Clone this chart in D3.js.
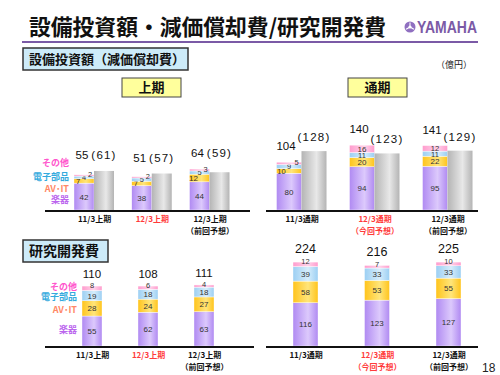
<!DOCTYPE html>
<html lang="ja">
<head>
<meta charset="UTF-8">
<title>設備投資額・減価償却費/研究開発費</title>
<script src="https://d3js.org/d3.v7.min.js"></script>
<style>
  body { margin: 0; padding: 0; background: #fff; }
  svg { display: block; font-family: "Noto Sans CJK JP", "Liberation Sans", sans-serif; }
</style>
</head>
<body>
<svg id="chart" width="500" height="375"></svg>
<script>
// ---- data ----
const segments = ["楽器", "AV・IT", "電子部品", "その他"];
const halfCats = ["11/3上期", "12/3上期", "12/3上期"];
const fullCats = ["11/3通期", "12/3通期", "12/3通期"];
const halfSubs = ["", "", "（前回予想）"];
const fullSubs = ["", "（今回予想）", "（前回予想）"];
const current = [false, true, false];

const capexHalf = [[42, 7, 4, 2], [38, 7, 5, 2], [44, 12, 5, 3]];
const capexHalfTotal = [55, 51, 64];
const deprHalf = [61, 57, 59];

const capexFull = [[80, 10, 9, 5], [94, 20, 11, 16], [95, 22, 11, 12]];
const capexFullTotal = [104, 140, 141];
const deprFull = [128, 123, 129];

const rdHalf = [[55, 28, 19, 8], [62, 24, 18, 6], [63, 27, 18, 4]];
const rdHalfTotal = [110, 108, 111];

const rdFull = [[116, 58, 39, 12], [123, 53, 33, 7], [127, 55, 33, 10]];
const rdFullTotal = [224, 216, 225];

// ---- styles ----
const segColors = [["#b08af2", "#dcc9fc"], ["#ffc41c", "#ffe57a"], ["#9ccff3", "#d6edfb"], ["#ff9ccd", "#ffd2e9"]];
const grayColors = ["#b4b4b4", "#e8e8e8"];
const legendColors = ["#bb66ee", "#ff8866", "#33aadd", "#ff55cc"];
const purple = "#7b5aa6";

const svg = d3.select("#chart");
const defs = svg.append("defs");

function addGrad(id, c) {
  const g = defs.append("linearGradient").attr("id", id).attr("x1", 0).attr("x2", 1).attr("y1", 0).attr("y2", 0);
  g.append("stop").attr("offset", "0%").attr("stop-color", c[0]);
  g.append("stop").attr("offset", "60%").attr("stop-color", c[1]);
  g.append("stop").attr("offset", "100%").attr("stop-color", c[0]);
}
segColors.forEach((c, i) => addGrad("seg" + i, c));
addGrad("gray", grayColors);

// ---- header ----
svg.append("text").attr("x", 29).attr("y", 35)
  .attr("font-size", 22).attr("font-weight", "bold").attr("fill", "#111")
  .attr("textLength", 357).attr("lengthAdjust", "spacingAndGlyphs")
  .text("設備投資額・減価償却費/研究開発費");
svg.append("line").attr("x1", 22).attr("x2", 478).attr("y1", 42).attr("y2", 42)
  .attr("stroke", purple).attr("stroke-width", 2);

// yamaha logo
const logo = svg.append("g").attr("transform", "translate(410,27)");
logo.append("circle").attr("r", 5.5).attr("fill", "#8f6fc0");
[0, 120, 240].forEach(a => {
  logo.append("line").attr("x1", 0).attr("y1", 0).attr("x2", 0).attr("y2", -4.5)
    .attr("stroke", "#fff").attr("stroke-width", 1.1).attr("transform", `rotate(${a})`);
});
logo.append("circle").attr("r", 1.6).attr("fill", "#fff");
svg.append("text").attr("x", 417).attr("y", 33).attr("font-family", "Liberation Sans Narrow, Liberation Sans, sans-serif")
  .attr("font-size", 16).attr("font-weight", "bold").attr("fill", "#7b5aa6")
  .attr("textLength", 60).attr("lengthAdjust", "spacingAndGlyphs").text("YAMAHA");

function titleBox(x, y, w, h, txt, fs) {
  svg.append("rect").attr("x", x).attr("y", y).attr("width", w).attr("height", h)
    .attr("fill", "#cdebf9").attr("stroke", "#333").attr("stroke-width", 1.5);
  svg.append("text").attr("x", x + 6).attr("y", y + h / 2 + fs * 0.38)
    .attr("font-size", fs).attr("font-weight", "bold").attr("fill", "#111").text(txt);
}
titleBox(23, 48, 165, 22, "設備投資額（減価償却費）", 13);
titleBox(23, 240, 85, 22, "研究開発費", 14);

svg.append("text").attr("x", 436).attr("y", 68).attr("font-size", 9).attr("fill", "#222").text("（億円）");

function periodBox(x, txt) {
  svg.append("rect").attr("x", x).attr("y", 78).attr("width", 59).attr("height", 19)
    .attr("fill", "#ffff9c").attr("stroke", "#444").attr("stroke-width", 1);
  svg.append("text").attr("x", x + 29.5).attr("y", 92).attr("text-anchor", "middle")
    .attr("font-size", 13).attr("font-weight", "bold").attr("fill", "#111").text(txt);
}
periodBox(122, "上期");
periodBox(348, "通期");

// ---- legends ----
function legend(xr, ys) {
  [3, 2, 1, 0].forEach((s, k) => {
    svg.append("text").attr("x", xr).attr("y", ys[k]).attr("text-anchor", "end")
      .attr("font-size", 9).attr("font-weight", "bold").attr("fill", legendColors[s])
      .text(s === 1 ? "AV･IT" : segments[s]);
  });
}
legend(69, [166, 180, 192, 203]);
legend(77, [290, 300, 313, 333]);

// ---- panels ----
function panel(opt) {
  const g = svg.append("g");
  const x = d3.scalePoint().domain([0, 1, 2]).range(opt.centers);
  const y = d3.scaleLinear().domain([0, opt.max]).range([opt.base, opt.base - opt.max * opt.k]);
  const bw = opt.barW;
  const hasGray = !!opt.gray;
  const sx = i => hasGray ? x(i) - bw : x(i) - bw / 2;

  opt.stacks.forEach((vals, i) => {
    let acc = 0;
    vals.forEach((v, s) => {
      const y0 = y(acc), y1 = y(acc + v);
      g.append("rect").attr("x", sx(i)).attr("y", y1).attr("width", bw).attr("height", y0 - y1)
        .attr("fill", `url(#seg${s})`).attr("stroke", "#fff").attr("stroke-width", 0.4);
      let lx = sx(i) + bw / 2;
      let ly = (y0 + y1) / 2 + 3;
      if (opt.spread && opt.spread[i] && s > 0) {
        lx += (s - 2) * bw * 0.3;
        ly -= (s - 1) * 0.5;
      } else if (y0 - y1 < 5) {
        ly = y1 + 2;
      }
      g.append("text").attr("x", lx).attr("y", ly)
        .attr("text-anchor", "middle").attr("font-size", y0 - y1 < 6 ? 7.5 : 8).attr("fill", "#333")
        .attr("font-family", "Liberation Sans Narrow, Liberation Sans, sans-serif")
        .text(v);
      acc += v;
    });
  });

  if (hasGray) {
    opt.gray.forEach((v, i) => {
      g.append("rect").attr("x", x(i)).attr("y", y(v)).attr("width", bw).attr("height", y(0) - y(v))
        .attr("fill", "url(#gray)");
    });
  }

  // totals
  opt.totals.forEach((t, i) => {
    const sum = d3.sum(opt.stacks[i]);
    let top = y(sum);
    if (hasGray && opt.shared) top = Math.min(top, y(opt.gray[i]));
    g.append("text").attr("x", sx(i) + bw / 2 + (opt.totalDx || 0)).attr("y", top - opt.gap)
      .attr("text-anchor", "middle").attr("font-size", opt.totalSize).attr("fill", "#111")
      .attr("font-family", "Liberation Sans, sans-serif").text(t);
    if (hasGray) {
      const gt = opt.shared ? top - opt.gap : y(opt.gray[i]) - opt.grayGap;
      g.append("text").attr("x", x(i) + bw / 2).attr("y", gt)
        .attr("text-anchor", "middle").attr("font-size", opt.totalSize).attr("fill", "#111")
        .attr("letter-spacing", 1.2)
        .attr("font-family", "Liberation Sans, sans-serif").text(`(${opt.gray[i]})`);
    }
  });

  // axis
  const ax = g.append("g").attr("transform", `translate(0,${opt.base + 1})`)
    .call(d3.axisBottom(x).tickSize(0).tickPadding(5).tickFormat(i => opt.cats[i]));
  ax.select(".domain").attr("d", `M${opt.axis[0]},0H${opt.axis[1]}`).attr("stroke", "#111").attr("stroke-width", 2);
  ax.selectAll(".tick text").attr("font-size", 8).attr("font-weight", "bold")
    .attr("font-family", "Noto Sans CJK JP, sans-serif")
    .attr("fill", i => current[i] ? "#ff3b3b" : "#111");
  ax.selectAll(".tick").append("text").attr("y", 23).attr("text-anchor", "middle")
    .attr("font-size", 8).attr("font-weight", "bold").attr("font-family", "Noto Sans CJK JP, sans-serif")
    .attr("fill", i => current[i] ? "#ff3b3b" : "#111")
    .text(i => opt.subs[i]);
}

panel({ stacks: capexHalf, totals: capexHalfTotal, gray: deprHalf, cats: halfCats, subs: halfSubs,
  centers: [94, 209.5], base: 210, max: 100, k: 0.64, barW: 20, axis: [45, 250], gap: 12,
  shared: true, spread: [true, true, true], totalSize: 11.5, totalDx: -2 });
panel({ stacks: capexFull, totals: capexFullTotal, gray: deprFull, cats: fullCats, subs: fullSubs,
  centers: [301.5, 447.5], base: 210, max: 200, k: 0.46, barW: 25, axis: [266, 478], gap: 12, grayGap: 10,
  spread: [true, false, false], totalSize: 11.5, totalDx: -3 });
panel({ stacks: rdHalf, totals: rdHalfTotal, cats: halfCats, subs: halfSubs,
  centers: [92, 204], base: 346, max: 120, k: 0.545, barW: 20, axis: [45, 254], gap: 8, totalSize: 11.5 });
panel({ stacks: rdFull, totals: rdFullTotal, cats: fullCats, subs: fullSubs,
  centers: [305.5, 448.5], base: 346, max: 250, k: 0.373, barW: 25, axis: [266, 478], gap: 9,
  totalSize: 12.5 });

svg.append("text").attr("x", 482).attr("y", 372).attr("font-size", 12).attr("fill", "#222")
  .attr("font-family", "Liberation Sans, sans-serif").text("18");
</script>
</body>
</html>
